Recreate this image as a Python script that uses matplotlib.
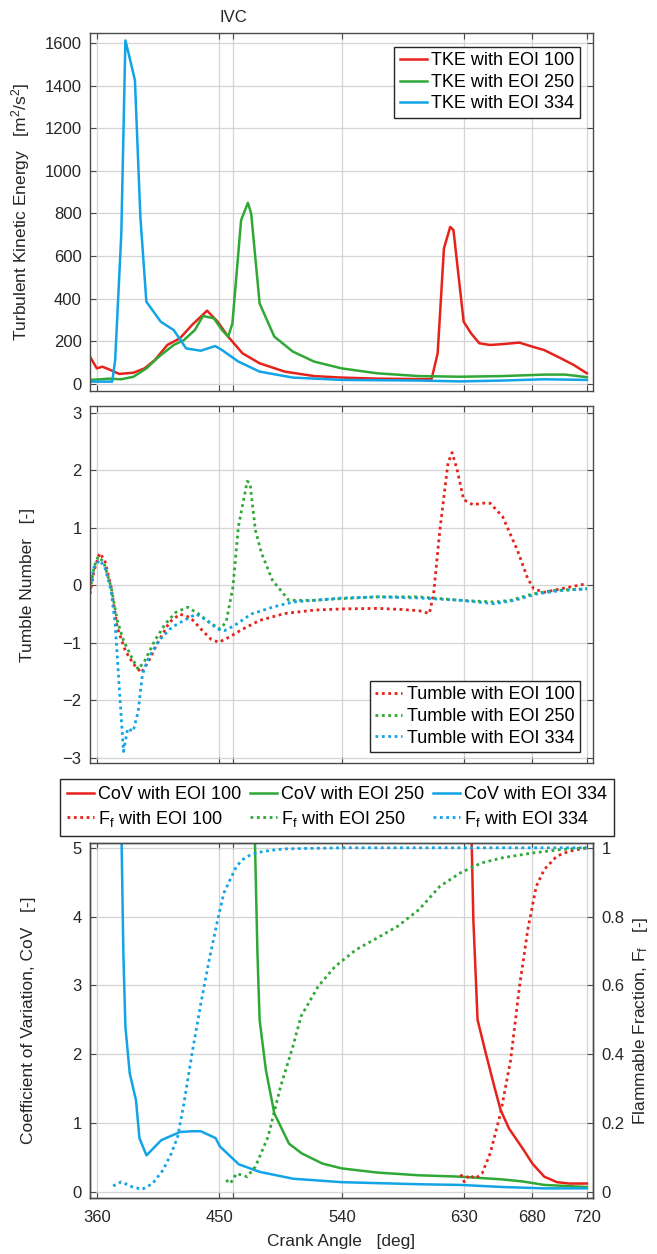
import matplotlib.pyplot as plt
import numpy as np

plt.rcParams['font.family'] = ['Liberation Sans Narrow', 'Liberation Sans', 'DejaVu Sans']
plt.rcParams['mathtext.default'] = 'regular'

# colours
c_red = '#e5231b'
c_green = '#2fa836'
c_blue = '#12a4e6'
dotted = (0, (1, 1.3))

# --- Turbulent kinetic energy [m2/s2] ---
tke100_ca = [355, 360, 364, 368.8, 376.5, 387, 395, 402.6, 411.8, 421, 430, 441, 448.8, 456.5, 467,
             479.6, 498, 519.6, 540, 566, 596.6, 605.9, 610.4, 615, 619.6, 622, 625.8, 629.5, 635,
             641, 648.9, 658, 670.4, 680, 688.7, 701, 710.4, 720]
tke100 = [128, 73, 81, 69, 47, 53, 73, 112, 183, 214, 277, 344, 292, 222, 144,
          97, 58, 37, 30, 25, 23, 23, 144, 636, 737, 722, 503, 292, 237,
          191, 183, 187, 194, 175, 159, 120, 89, 50]

tke250_ca = [355, 362.7, 368.8, 378, 387, 396.4, 405.6, 416.5, 424, 432, 438, 446, 452, 456.5, 459.6,
             466, 471, 473.4, 479.6, 490.4, 504, 519.6, 540, 566, 596.6, 627, 658, 688.7, 704, 720]
tke250 = [19, 22, 25, 22, 34, 73, 128, 183, 206, 253, 319, 308, 253, 222, 284,
          769, 850, 800, 378, 222, 152, 105, 73, 50, 37, 34, 37, 44, 44, 32]

tke334_ca = [355, 362.7, 371.3, 373.5, 378, 381, 384, 388, 392, 396.4, 407, 416.5, 425.6, 436.4, 447,
             452, 464, 479.6, 504, 540, 596.6, 627, 658, 688.7, 720]
tke334 = [11, 11, 11, 112, 706, 1612, 1534, 1425, 784, 386, 292, 253, 167, 156, 178,
          159, 105, 58, 30, 19, 16, 12, 16, 22, 19]

# --- Tumble number [-] ---
tum100_ca = [355, 358, 362, 365.8, 370.5, 375, 381, 387, 392.8, 398, 405.6, 413.4, 421, 428.8, 436.5,
             444, 449.6, 456.5, 467.3, 479.6, 498, 519.6, 540, 566, 584, 596.6, 604.3, 607.4, 612,
             618, 621, 624.6, 629.5, 636.5, 642.7, 648.9, 658, 669, 676.5, 681, 688.7, 701, 720]
tum100 = [-0.15, 0.26, 0.56, 0.44, -0.03, -0.73, -1.14, -1.37, -1.52, -1.32, -0.96, -0.64, -0.50, -0.56, -0.76,
          -0.94, -0.99, -0.91, -0.76, -0.61, -0.49, -0.43, -0.41, -0.40, -0.42, -0.44, -0.49, -0.15, 0.96,
          2.13, 2.31, 2.02, 1.49, 1.40, 1.43, 1.43, 1.20, 0.61, 0.12, -0.06, -0.12, -0.06, 0.03]

tum250_ca = [355, 358, 361, 365, 370.5, 375, 379.6, 385.8, 390.4, 395, 402.6, 410.3, 418, 426.7, 435,
             442.5, 450.3, 455, 460, 464, 470.5, 472.5, 476.5, 481, 489, 501, 519.6, 540, 566, 596.6,
             627, 652, 664, 680, 695, 720]
tum250 = [-0.09, 0.32, 0.50, 0.41, -0.03, -0.61, -0.96, -1.26, -1.46, -1.32, -0.96, -0.67, -0.47, -0.38, -0.50,
          -0.64, -0.76, -0.64, -0.03, 1.02, 1.81, 1.78, 0.96, 0.56, 0.09, -0.26, -0.26, -0.23, -0.20, -0.20,
          -0.26, -0.29, -0.26, -0.15, -0.09, -0.06]

tum334_ca = [355, 358, 362, 365.8, 370.5, 373.5, 376.5, 379.6, 382.7, 386.7, 390.4, 393.5, 398, 405.6, 415,
             424, 433, 441, 448.8, 453.5, 461, 473.4, 489, 504, 540, 566, 596.6, 627, 652, 667,
             683, 701, 720]
tum334 = [-0.03, 0.32, 0.44, 0.32, -0.09, -0.67, -1.78, -2.89, -2.49, -2.54, -2.19, -1.55, -1.26, -0.96, -0.73,
          -0.61, -0.50, -0.61, -0.76, -0.79, -0.70, -0.50, -0.38, -0.29, -0.22, -0.20, -0.22, -0.26, -0.32, -0.26,
          -0.15, -0.09, -0.06]

# --- Coefficient of variation [-] ---
cov100_ca = [634.8, 636.6, 639.7, 645.8, 652, 656.6, 662.8, 673.5, 680, 688.7, 698, 707, 720]
cov100 = [5.6, 3.96, 2.50, 2.01, 1.53, 1.19, 0.92, 0.61, 0.41, 0.22, 0.14, 0.12, 0.12]

cov250_ca = [475.6, 478, 479.6, 484.2, 490.4, 501.2, 510.4, 525.8, 540, 566, 596.6, 627, 658, 673, 688.7, 720]
cov250 = [5.6, 3.47, 2.50, 1.77, 1.14, 0.70, 0.56, 0.41, 0.34, 0.28, 0.24, 0.22, 0.18, 0.15, 0.10, 0.07]

cov334_ca = [377.8, 379.5, 381, 384.2, 388.8, 391.3, 396.5, 407.3, 421.2, 430.4, 436.5, 447.3, 450.4, 464.3, 479.6,
             504.3, 540, 596.6, 627, 658, 688.7, 720]
cov334 = [5.6, 3.47, 2.40, 1.72, 1.33, 0.78, 0.53, 0.75, 0.87, 0.88, 0.88, 0.78, 0.66, 0.40, 0.29,
          0.19, 0.14, 0.11, 0.10, 0.07, 0.05, 0.05]

# --- Flammable fraction [-] ---
ff100_ca = [627.4, 629.9, 633.5, 638, 643, 649, 656.6, 664, 670.5, 676.6, 682.8, 688.7, 698, 707, 720]
ff100 = [0.051, 0.029, 0.049, 0.039, 0.053, 0.112, 0.228, 0.383, 0.597, 0.762, 0.888, 0.937, 0.976, 0.990, 1.0]

ff250_ca = [455, 458, 462.7, 470.4, 476.5, 485.8, 495, 504, 510, 522.6, 535, 550.5, 566, 581, 596.6,
            612, 627, 642.5, 658, 680, 701, 720]
ff250 = [0.034, 0.024, 0.053, 0.044, 0.073, 0.160, 0.306, 0.422, 0.510, 0.597, 0.655, 0.704, 0.738, 0.772, 0.820,
         0.888, 0.927, 0.956, 0.971, 0.985, 0.995, 1.0]

ff334_ca = [372, 378, 385.6, 393.3, 401, 408.6, 414.8, 419.4, 424, 430, 436.5, 442.6, 448.8, 453.4, 458,
            462.7, 467.3, 473.4, 482.6, 498, 540, 720]
ff334 = [0.017, 0.029, 0.015, 0.007, 0.024, 0.063, 0.112, 0.160, 0.257, 0.403, 0.549, 0.675, 0.791, 0.869, 0.908,
         0.947, 0.966, 0.981, 0.990, 0.997, 1.0, 1.0]

xticks = [360, 450, 460, 540, 630, 680, 720]
xticklabels = ['360', '450', '', '540', '630', '680', '720']

fig = plt.figure(figsize=(6.57, 12.54), dpi=100)
W, H = 657, 1254
left, right = 90 / W, 593 / W
ax1 = fig.add_axes([left, 1 - 391 / H, right - left, 358 / H])
ax2 = fig.add_axes([left, 1 - 763 / H, right - left, 357 / H])
ax3 = fig.add_axes([left, 1 - 1198 / H, right - left, 355 / H])
ax3r = ax3.twinx()

edge = '#4a4a4a'
txt = '#262626'
fs = 12.5
for ax in (ax1, ax2, ax3, ax3r):
    for s in ax.spines.values():
        s.set_color(edge)
        s.set_linewidth(1.0)
    ax.tick_params(direction='in', length=4, colors=edge, labelcolor=txt, labelsize=12,
                   top=True, right=True, pad=6)
for ax in (ax1, ax2, ax3):
    ax.set_xlim(355, 724.5)
    ax.set_xticks(xticks)
    ax.grid(True, color='#d4d4d4', lw=0.9)
    ax.set_axisbelow(True)
ax1.set_xticklabels([])
ax2.set_xticklabels([])
ax3.set_xticklabels(xticklabels)
ax3.tick_params(axis='x', pad=9)
ax3.tick_params(right=False)

legkw = dict(fontsize=13, handlelength=1.5, handletextpad=0.25, borderpad=0.3,
             labelspacing=0.25, fancybox=False, framealpha=1, edgecolor='#262626',
             borderaxespad=0)

lw = 1.8
# top panel
ax1.plot(tke100_ca, tke100, color=c_red, lw=lw, label='TKE with EOI 100')
ax1.plot(tke250_ca, tke250, color=c_green, lw=lw, label='TKE with EOI 250')
ax1.plot(tke334_ca, tke334, color=c_blue, lw=lw, label='TKE with EOI 334')
ax1.set_ylim(-33, 1647)
ax1.set_yticks(np.arange(0, 1601, 200))
ax1.set_ylabel('Turbulent Kinetic Energy   [m$^2$/s$^2$]', fontsize=fs, color=txt)
ax1.yaxis.set_label_coords(-0.115, 0.5)
top = ax1.secondary_xaxis('top')
top.set_xticks([460])
top.set_xticklabels(['IVC'])
top.tick_params(length=0, labelsize=12, labelcolor=txt, pad=6)
top.spines['top'].set_visible(False)
leg1 = ax1.legend(loc='upper right', bbox_to_anchor=(0.974, 0.961), **legkw)
leg1.get_frame().set_linewidth(1.0)

# middle panel
ax2.plot(tum100_ca, tum100, color=c_red, lw=2, ls=dotted, label='Tumble with EOI 100')
ax2.plot(tum250_ca, tum250, color=c_green, lw=2, ls=dotted, label='Tumble with EOI 250')
ax2.plot(tum334_ca, tum334, color=c_blue, lw=2, ls=dotted, label='Tumble with EOI 334')
ax2.set_ylim(-3.09, 3.12)
ax2.set_yticks(np.arange(-3, 4, 1))
ax2.set_ylabel('Tumble Number   [-]', fontsize=fs, color=txt)
ax2.yaxis.set_label_coords(-0.11, 0.5)
leg2 = ax2.legend(loc='lower right', bbox_to_anchor=(0.974, 0.031), **legkw)
leg2.get_frame().set_linewidth(1.0)

# bottom panel
h1, = ax3.plot(cov100_ca, cov100, color=c_red, lw=lw, label='CoV with EOI 100')
h2, = ax3.plot(cov250_ca, cov250, color=c_green, lw=lw, label='CoV with EOI 250')
h3, = ax3.plot(cov334_ca, cov334, color=c_blue, lw=lw, label='CoV with EOI 334')
g1, = ax3r.plot(ff100_ca, ff100, color=c_red, lw=2, ls=dotted, label='F$_f$ with EOI 100')
g2, = ax3r.plot(ff250_ca, ff250, color=c_green, lw=2, ls=dotted, label='F$_f$ with EOI 250')
g3, = ax3r.plot(ff334_ca, ff334, color=c_blue, lw=2, ls=dotted, label='F$_f$ with EOI 334')
ax3.set_ylim(-0.09, 5.07)
ax3.set_yticks(np.arange(0, 6, 1))
ax3r.set_ylim(-0.018, 1.014)
ax3r.set_yticks([0, 0.2, 0.4, 0.6, 0.8, 1])
ax3r.set_yticklabels(['0', '0.2', '0.4', '0.6', '0.8', '1'])
ax3r.tick_params(top=False, left=False)
ax3.set_ylabel('Coefficient of Variation, CoV   [-]', fontsize=fs, color=txt)
ax3.yaxis.set_label_coords(-0.107, 0.5)
ax3r.set_ylabel('Flammable Fraction, F$_f$   [-]', fontsize=fs, color=txt)
ax3r.yaxis.set_label_coords(1.075, 0.5)
ax3.set_xlabel('Crank Angle   [deg]', fontsize=fs, color=txt, labelpad=6)

leg3 = fig.legend([h1, g1, h2, g2, h3, g3],
                  [h.get_label() for h in (h1, g1, h2, g2, h3, g3)],
                  loc='center', bbox_to_anchor=(337 / W, 1 - 807.5 / H), ncol=3,
                  columnspacing=0.45, **dict(legkw, borderpad=0.4, labelspacing=0.3))
leg3.get_frame().set_linewidth(1.0)

fig.savefig('out.png', dpi=100)
